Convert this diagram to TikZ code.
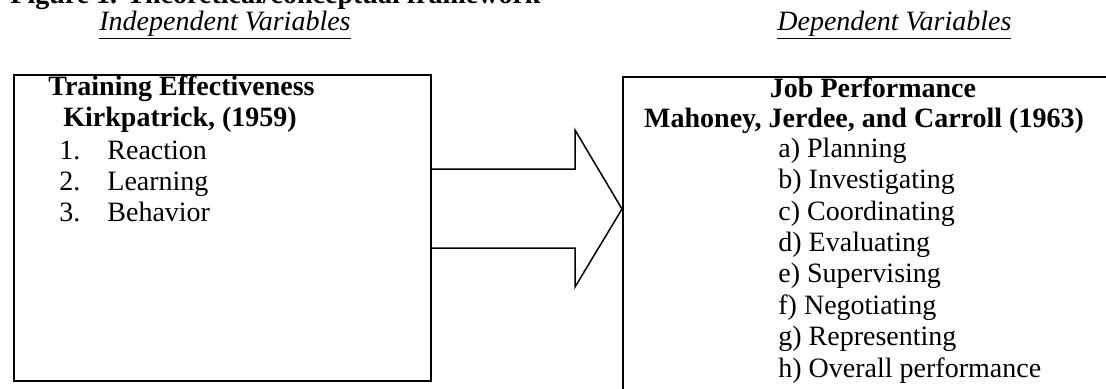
\documentclass[tikz,border=0pt]{standalone}
\usepackage{fontspec}
\setmainfont{Liberation Serif}
\usetikzlibrary{positioning}
\tikzset{
	frame/.style={
		rectangle,
		draw,
		line width=1pt,
		anchor=north west,
		inner sep=0pt
	},
	txt/.style={
		inner sep=0pt,
		anchor=base west,
		align=left,
		font=\fontsize{14}{15.7}\selectfont
	}
}

\begin{document}
\begin{tikzpicture}[x=0.5pt, y=-0.5pt]
			\useasboundingbox (0,0) rectangle (1106,388);
			\draw node[txt](Caption) at (10,3){\textbf{Figure 1. Theoretical/conceptual framework}};
			\draw node[txt](Independent) at (99,30){\underline{\textit{Independent Variables}}};
			\draw node[txt](Dependent) at (777,30){\underline{\textit{Dependent Variables}}};
			
			\draw node[frame, minimum width=208.5pt, minimum height=153pt](TrainingBox) at (13,74){};
			\draw node[frame, minimum width=250pt, minimum height=170pt](PerformanceBox) at (622,76){};
			
			\draw node[txt](Training) at (48,95){\textbf{Training Effectiveness}};
			\draw node[txt](TrainingRef) at (63,126){\textbf{Kirkpatrick, (1959)}};
			% base of a multi-line node = baseline of its last line
			\draw node[txt, font=\fontsize{14}{15.5}\selectfont](Levels) at (59,221){\makebox[24pt][l]{1.}Reaction\\ \makebox[24pt][l]{2.}Learning\\ \makebox[24pt][l]{3.}Behavior};
			
			\draw node[txt, anchor=base](Performance) at (873,97){\textbf{Job Performance}};
			\draw node[txt, anchor=base](PerformanceRef) at (864,127){\textbf{Mahoney, Jerdee, and Carroll (1963)}};
			\draw node[txt](Dimensions) at (778,377){a) Planning\\ b) Investigating\\ c) Coordinating\\ d) Evaluating\\ e) Supervising\\ f) Negotiating\\ g) Representing\\ h) Overall performance};
			
			\draw [line width=.75pt] (TrainingBox.east |- 0,169) -- (575,169) -- (575,130) -- (PerformanceBox.west |- 0,209) -- (575,287) -- (575,248) -- (TrainingBox.east |- 0,248);
		\end{tikzpicture}
\end{document}
